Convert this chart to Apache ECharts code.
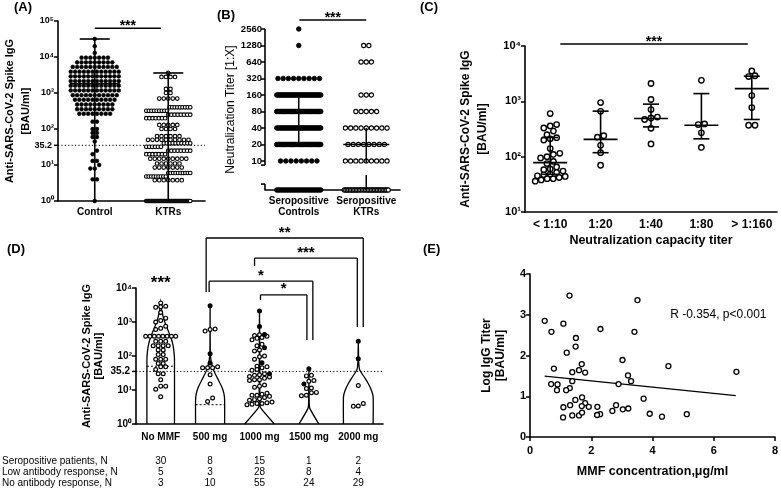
<!DOCTYPE html>
<html>
<head>
<meta charset="utf-8">
<script src="https://cdn.jsdelivr.net/npm/echarts@6.0.0/dist/echarts.min.js"></script>
<style>
html,body{margin:0;padding:0;background:#ffffff;}
#chart{width:781px;height:492px;}
</style>
</head>
<body>
<div id="chart"></div>
<script>
// ================= DATA =================
// (A) anti-spike IgG [BAU/ml]; dot rows as [value, number of dots]
const aCategories = ['Control', 'KTRs'];
const aControlRows = [[31600,1],[20000,1],[13000,1],[9600,7],[7100,9],[5300,11],[3900,12],[2900,12],[2150,12],[1600,12],[1180,12],[870,11],[650,10],[480,9],[355,9],[265,8],[160,2],[100,2],[78,2],[60,2],[45,1],[25,1],[20,1],[13,2],[10,1],[8,2],[4,2],[1,1]];
const aKtrRows = [[3600,1],[2800,4],[1300,2],[1000,2],[700,5],[400,9],[320,9],[250,8],[200,7],[130,5],[100,4],[63,6],[50,10],[40,10],[32,6],[25,8],[20,7],[15,9],[11,6],[8.5,7],[6,10],[4.8,9],[3.8,7],[1,45]];
const aMedian = [1800, null];
const aMin = [1, 1];
const aMax = [31600, 3600];
const aThreshold = 35.2;
const aSignif = '***';

// (B) neutralization titer [1:X]; dot counts per titer level
const bCategories = ['Seropositive\nControls', 'Seropositive\nKTRs'];
const bTiterLevels = [0, 10, 20, 40, 80, 160, 320, 640, 1280, 2560];
const bControlCounts = [30, 8, 40, 40, 40, 45, 9, 0, 1, 1];
const bKtrCounts = [30, 9, 8, 9, 5, 3, 0, 3, 2, 0];
const bMedian = [40, 20];
const bQ1 = [20, 0];
const bQ3 = [160, 40];
const bTickLabels = [10, 20, 40, 80, 160, 320, 640, 1280, 2560];
const bSignif = '***';

// (C) IgG by neutralization capacity titer
const cCategories = ['< 1:10', '1:20', '1:40', '1:80', '> 1:160'];
const cLt10 = [600,380,360,330,290,250,220,210,200,140,115,110,100,95,82,75,65,60,58,55,52,48,47,45,44,42,40,40,38,36];
const c20 = [950,660,240,225,160,118,70];
const c40 = [2100,1080,710,520,500,470,325,170];
const c80 = [2400,390,380,270,147];
const cGt160 = [3550,2900,2800,1270,770,370,370];
const cMedian = [78, 205, 490, 370, 1700];
const cQ1 = [48, 118, 345, 210, 470];
const cQ3 = [222, 665, 890, 1380, 2850];
const cSignif = '***';

// (D) IgG by MMF dose
const dCategories = ['No MMF', '500 mg', '1000 mg', '1500 mg', '2000 mg'];
const dOpenNoMMF = [3600,2900,2800,2700,1900,1300,1100,1000,750,650,600,380,380,380,380,380,380,380,380,270,270,270,200,200,200,200,150,150,110,110,80,80,80,60,60,48,48,40,30,30,20,13,13,10.5,6.3];
const dOpen500 = [620,600,540,48,45,45,45,28,15,5.8,4.6];
const dFilled500 = [3000,117,62];
const dOpen1000 = [420,400,380,350,330,300,220,200,150,140,100,95,80,50,48,45,40,38,30,28,27,25,24,22,20,20,19,14,13,12,8,7.5,7,7,6.5,6,5.5,5.2,5,4.4,4.2,4.0,4.0,3.8,3.7];
const dFilled1000 = [2100,740,430,175,63,30];
const dOpen1500 = [27,26,19,18,11.5,11,8.5,8.3,7,6.8];
const dFilled1500 = [42,15];
const dOpen2000 = [13.5,4,3.4,3.3];
const dFilled2000 = [270,83];
// violin outlines: [log10 level, relative half-width]
const dViolinNoMMF = [[0,0.93],[1.9,0.93],[2.1,0.9],[2.3,0.84],[2.5,0.72],[2.7,0.55],[2.9,0.36],[3.1,0.2],[3.3,0.09],[3.45,0.03],[3.56,0]];
const dViolin500 = [[0,0.98],[0.7,0.98],[0.9,0.93],[1.1,0.78],[1.3,0.55],[1.5,0.32],[1.65,0.17],[1.75,0.12],[1.85,0.07],[2.0,0.03],[2.2,0.01],[3.48,0]];
const dViolin1000 = [[0,1],[0.46,0.1],[0.55,0.03],[1.5,0.02],[3.33,0]];
const dViolin1500 = [[0,0.67],[0.46,0.06],[0.6,0.02],[1.62,0]];
const dViolin2000 = [[0,1],[0.8,1],[1.0,0.88],[1.2,0.66],[1.35,0.45],[1.5,0.22],[1.6,0.09],[1.8,0.03],[2.43,0]];
const dQuartileCats = [0, 1];
const dQuartileValues = [50, 3.7];
const dThreshold = 35.2;
const dNoMMFSignif = '***';
const dBracketPairs = [[1,4],[2,4],[1,3],[2,3]];
const dBracketLabels = ['**','***','*','*'];
const dTableRowNames = ['Seropositive patients, N', 'Low antibody response, N', 'No antibody response, N'];
const dSeropositive = [30, 8, 15, 1, 2];
const dLowResponse = [5, 3, 28, 8, 4];
const dNoResponse = [3, 10, 55, 24, 29];

// (E) log IgG titer vs MMF concentration
const eX = [1.29,3.51,0.48,1.09,0.70,2.30,3.41,1.50,1.49,1.20,3.02,4.52,6.74,0.78,1.69,1.60,1.38,1.80,3.20,3.30,2.89,0.69,0.90,1.38,1.30,0.88,1.18,1.70,1.48,3.71,1.80,1.09,1.31,1.92,1.69,2.20,2.81,2.69,3.03,3.21,2.29,2.19,1.38,1.60,1.70,1.08,3.91,4.31,5.12];
const eY = [3.47,3.36,2.85,2.78,2.58,2.65,2.58,2.43,2.22,2.07,1.89,1.74,1.60,1.68,1.79,1.64,1.59,1.58,1.51,1.37,1.30,1.30,1.29,1.37,1.20,1.15,1.15,0.97,0.91,0.94,0.83,0.73,0.78,0.74,0.76,0.74,0.78,0.64,0.68,0.70,0.56,0.54,0.53,0.53,0.60,0.48,0.57,0.50,0.56];
const eFitIntercept = 1.53;
const eFitSlope = -0.0765;
const eFitRange = [0.48, 6.72];
const eAnnotation = 'R -0.354, p<0.001';

// ================= HELPERS =================
const FONT = "'Liberation Sans', Arial, Helvetica, sans-serif";
const INK = '#000000';
const SUP = ['\u2070','\u00b9','\u00b2','\u00b3','\u2074','\u2075'];
const B_ZERO = -1.76, B_BREAK_HI = -0.25, B_BREAK_LO = -1.4;
function tB(v){ return v === 0 ? B_ZERO : Math.log2(v / 10); }
function expandRows(rows){ const o=[]; rows.forEach(r=>{ for(let k=0;k<r[1];k++) o.push(r[0]); }); return o; }
function expandCounts(levels, counts){ const o=[]; levels.forEach((lv,i)=>{ for(let k=0;k<counts[i];k++) o.push(lv); }); return o; }
function logLabel(v){ const e = Math.round(Math.log10(v)); return '10' + (SUP[e] || ''); }
function mkLine(ch,x1,y1,x2,y2,w,dash){ ch.push({type:'line', shape:{x1:x1,y1:y1,x2:x2,y2:y2}, style:{stroke:INK, lineWidth:w||1.5, lineDash:dash||null, fill:null}}); }
function mkText(ch,x,y,t,font,align,valign){ ch.push({type:'text', x:x, y:y, style:{text:t, fill:INK, font:font, align:align||'center', verticalAlign:valign||'top', textAlign:align||'center', textVerticalAlign:valign||'top'}}); }

const swarmCache = {};
function swarm(key, xi, yi, cat, vals, flags, cfg){
  const data = vals.map((v,i)=>[cat, v, flags[i] ? 1 : 0]);
  return {
    type:'custom', xAxisIndex:xi, yAxisIndex:yi, z:3, clip:false, silent:true, data:data,
    renderItem: function(params, api){
      if (!swarmCache[key]) {
        const pts = data.map(d => api.coord([d[0], d[1]]));
        const order = pts.map((p,i)=>i).sort((a,b)=>pts[b][1]-pts[a][1]);
        const out = pts.map(p=>[p[0],p[1]]);
        let row = [], rowY = null;
        const flush = function(){
          const n = row.length;
          const sp = n > 1 ? Math.min(cfg.d, 2*cfg.half/(n-1)) : 0;
          row.forEach((idx,k)=>{ out[idx][0] = pts[idx][0] + (k-(n-1)/2)*sp; });
          row = [];
        };
        order.forEach(idx=>{
          if (row.length && Math.abs(pts[idx][1]-rowY) > cfg.d*0.8) flush();
          if (!row.length) rowY = pts[idx][1];
          row.push(idx);
        });
        flush();
        swarmCache[key] = out;
      }
      const p = swarmCache[key][params.dataIndex];
      const f = data[params.dataIndex][2];
      return {type:'circle', shape:{cx:p[0], cy:p[1], r:cfg.r}, style:{fill: f ? INK : '#ffffff', stroke:INK, lineWidth:cfg.lw}};
    }
  };
}

function statsSeries(xi, yi, med, lo, hi, cfg){
  return {
    type:'custom', xAxisIndex:xi, yAxisIndex:yi, z:4, clip:false, silent:true,
    data: lo.map((v,i)=>[i, v]),
    renderItem: function(params, api){
      const i = params.dataIndex, ch = [];
      const X = api.coord([i, lo[i]])[0];
      const Y = v => api.coord([i, v])[1];
      const segs = cfg.split ? cfg.split(lo[i], hi[i]) : [[lo[i], hi[i]]];
      segs.forEach(s => mkLine(ch, X, Y(s[0]), X, Y(s[1]), cfg.lw));
      if (cfg.capHalf) {
        if (cfg.capLo) mkLine(ch, X-cfg.capHalf, Y(lo[i]), X+cfg.capHalf, Y(lo[i]), cfg.lw);
        if (cfg.capHi) mkLine(ch, X-cfg.capHalf, Y(hi[i]), X+cfg.capHalf, Y(hi[i]), cfg.lw);
      }
      if (med[i] !== null && med[i] !== undefined && cfg.medHalf) mkLine(ch, X-cfg.medHalf, Y(med[i]), X+cfg.medHalf, Y(med[i]), cfg.lw);
      return {type:'group', children:ch};
    }
  };
}

function anno(xi, yi, y0, z, build){
  return {type:'custom', xAxisIndex:xi, yAxisIndex:yi, z:z, clip:false, silent:true, data:[[0, y0]],
    renderItem: function(params, api){ const ch=[]; build(api, ch); return {type:'group', children:ch}; }};
}

// ================= SERIES =================
const series = [];
// --- A ---
const aCtrl = expandRows(aControlRows), aKtr = expandRows(aKtrRows);
series.push(anno(0,0,10,2,function(api,ch){
  const band = api.size([1,0])[0];
  const left = api.coord([0,1])[0]-band/2, right = api.coord([aCategories.length-1,1])[0]+band/2;
  const yT = api.coord([0,aThreshold])[1];
  mkLine(ch,left,yT,right,yT,1,[1.2,2.2]);
  mkLine(ch,left-4,yT,left,yT,1.5);
  mkText(ch,left-6,yT,String(aThreshold),'bold 9px '+FONT,'right','middle');
  const ys = api.coord([0,Math.pow(10,4.8)])[1];
  const x1 = api.coord([0,1])[0], x2 = api.coord([1,1])[0]-0.1*band;
  mkLine(ch,x1,ys,x2,ys,1.5);
  mkText(ch,(x1+x2)/2,ys-9,aSignif,'bold 14px '+FONT);
}));
series.push(swarm('a0',0,0,0,aCtrl,aCtrl.map(()=>1),{d:4.4,half:24,r:1.9,lw:0.6}));
series.push(swarm('a1',0,0,1,aKtr,aKtr.map(()=>0),{d:4.5,half:22,r:1.8,lw:1.1}));
series.push(statsSeries(0,0,aMedian,aMin,aMax,{medHalf:25,capHalf:15,capHi:true,lw:1.6}));

// --- B ---
const bCtrl = expandCounts(bTiterLevels,bControlCounts).map(tB);
const bKtr = expandCounts(bTiterLevels,bKtrCounts).map(tB);
series.push(anno(1,1,0,5,function(api,ch){
  const band = api.size([1,0])[0];
  const left = api.coord([0,0])[0]-band/2;
  const c = t => api.coord([0,t])[1];
  mkLine(ch,left,c(8),left,c(B_BREAK_HI),1.6);
  mkLine(ch,left-4,c(B_BREAK_HI),left,c(B_BREAK_HI),1.6);
  mkLine(ch,left,c(B_BREAK_LO),left,c(B_ZERO),1.6);
  mkLine(ch,left-4,c(B_BREAK_LO),left,c(B_BREAK_LO),1.6);
  const ys = c(8.55);
  const x1 = api.coord([0,0])[0]+0.01*band, x2 = api.coord([1,0])[0];
  mkLine(ch,x1,ys,x2,ys,1.4);
  mkText(ch,(x1+x2)/2,ys-9,bSignif,'bold 14px '+FONT);
}));
series.push(swarm('b0',1,1,0,bCtrl,bCtrl.map(()=>1),{d:5.2,half:22,r:2.3,lw:0.8}));
series.push(swarm('b1',1,1,1,bKtr,bKtr.map(()=>0),{d:5.2,half:22,r:2.1,lw:1.1}));
series.push(statsSeries(1,1,bMedian.map(tB),bQ1.map(tB),bQ3.map(tB),{medHalf:23,lw:1.5,
  split:function(a,b){ const s=[]; if (b > -0.12) s.push([Math.max(a,-0.12), b]); if (a < -0.85) s.push([a, Math.min(b,-0.85)]); return s; }}));

// --- C ---
const cGroups = [cLt10, c20, c40, c80, cGt160];
series.push(anno(2,2,100,5,function(api,ch){
  const band = api.size([1,0])[0];
  const ys = api.coord([0,Math.pow(10,4.036)])[1];
  const x1 = api.coord([0,100])[0]+0.2*band, x2 = api.coord([cCategories.length-1,100])[0]-0.08*band;
  mkLine(ch,x1,ys,x2,ys,1.5);
  mkText(ch,(x1+x2)/2,ys-9,cSignif,'bold 14px '+FONT);
}));
cGroups.forEach((g,i)=>series.push(swarm('c'+i,2,2,i,g,g.map(()=>0),{d:6.4,half:15,r:2.7,lw:1.4})));
series.push(statsSeries(2,2,cMedian,cQ1,cQ3,{medHalf:17,capHalf:8,capHi:true,capLo:true,lw:1.6}));

// --- D ---
const dViolins = [dViolinNoMMF, dViolin500, dViolin1000, dViolin1500, dViolin2000];
const dOpen = [dOpenNoMMF, dOpen500, dOpen1000, dOpen1500, dOpen2000];
const dFilled = [[], dFilled500, dFilled1000, dFilled1500, dFilled2000];
function violinHalf(prof, lv){
  for (let k=1;k<prof.length;k++){ if (lv <= prof[k][0]) { const a=prof[k-1], b=prof[k]; return a[1]+(b[1]-a[1])*(lv-a[0])/(b[0]-a[0]); } }
  return 0;
}
series.push({type:'custom', xAxisIndex:3, yAxisIndex:3, z:1, clip:false, silent:true,
  data: dViolins.map((p,i)=>[i,1]),
  renderItem: function(params, api){
    const i = params.dataIndex, prof = dViolins[i];
    const band = api.size([1,0])[0], mh = band*0.3;
    const cx = api.coord([i,1])[0];
    const L=[], R=[];
    prof.forEach(function(p){ const y = api.coord([i,Math.pow(10,p[0])])[1]; L.push([cx-p[1]*mh,y]); R.push([cx+p[1]*mh,y]); });
    const pts = L.concat(R.reverse());
    const ch = [{type:'polyline', shape:{points:pts, smooth:0.2}, style:{stroke:INK, fill:null, lineWidth:1.3}}];
    dQuartileCats.forEach(function(c,k){
      if (c !== i) return;
      const lv = Math.log10(dQuartileValues[k]);
      const hw = violinHalf(prof, lv)*mh;
      const y = api.coord([i,dQuartileValues[k]])[1];
      mkLine(ch,cx-hw,y,cx+hw,y,1,[2,2]);
    });
    return {type:'group', children:ch};
  }});
series.push(anno(3,3,10,2,function(api,ch){
  const band = api.size([1,0])[0];
  const left = api.coord([0,1])[0]-band/2, right = api.coord([dCategories.length-1,1])[0]+band/2;
  const yT = api.coord([0,dThreshold])[1];
  mkLine(ch,left,yT,right,yT,1,[1.2,2.2]);
  mkLine(ch,left-4,yT,left,yT,1.5);
  mkText(ch,left-6,yT,String(dThreshold),'bold 10px '+FONT,'right','middle');
}));
dOpen.forEach((g,i)=>{
  const vals = g.concat(dFilled[i]);
  const flags = g.map(()=>0).concat(dFilled[i].map(()=>1));
  series.push(swarm('d'+i,3,3,i,vals,flags,{d:5,half:15,r:1.9,lw:1.2}));
});
// bracket geometry (layout): [x-offset from, x-offset to (band fractions), top log10, left leg end, right leg end]
const dBracketGeom = [[-0.08,0.1,5.47,3.88,2.85],[-0.1,-0.02,4.88,4.65,2.85],[-0.02,0.08,4.2,3.88,2.47],[0.02,-0.04,3.8,3.65,2.47]];
series.push(anno(3,3,10,5,function(api,ch){
  const band = api.size([1,0])[0];
  const Y = lv => api.coord([0,Math.pow(10,lv)])[1];
  dBracketPairs.forEach(function(pr,k){
    const g = dBracketGeom[k];
    const x1 = api.coord([pr[0],1])[0]+g[0]*band, x2 = api.coord([pr[1],1])[0]+g[1]*band;
    const yt = Y(g[2]);
    mkLine(ch,x1,yt,x2,yt,1.3);
    mkLine(ch,x1,yt,x1,Y(g[3]),1.3);
    mkLine(ch,x2,yt,x2,Y(g[4]),1.3);
    mkText(ch,(x1+x2)/2,yt-13,dBracketLabels[k],'bold 15px '+FONT);
  });
  const x0 = api.coord([0,1])[0];
  mkText(ch,x0,Y(4.15)-8,dNoMMFSignif,'bold 17px '+FONT);
}));

// --- E ---
series.push({type:'line', xAxisIndex:4, yAxisIndex:4, z:2, silent:true, symbol:'none',
  data: eFitRange.map(x=>[x, eFitIntercept+eFitSlope*x]), lineStyle:{color:INK, width:1.4}});
series.push({type:'scatter', xAxisIndex:4, yAxisIndex:4, z:3, silent:true, symbol:'circle', symbolSize:5,
  data: eX.map((x,i)=>[x, eY[i]]), itemStyle:{color:'#ffffff', borderColor:INK, borderWidth:1.3, opacity:1}});
series.push(anno(4,4,1,5,function(api,ch){
  const p = api.coord([6.15, 3.0]);
  mkText(ch,p[0],p[1],eAnnotation,'12px '+FONT,'center','middle');
}));

// ================= AXES =================
const axLine = {show:true, onZero:false, lineStyle:{color:INK, width:1.6}};
const axTick = {show:true, length:4, lineStyle:{color:INK, width:1.5}};
const noSplit = {show:false};
const bTickVals = bTickLabels.map(tB);
function lbl(size, weight, extra){ return Object.assign({color:INK, fontFamily:FONT, fontSize:size, fontWeight:weight}, extra||{}); }

const xAxis = [
  {type:'category', gridIndex:0, data:aCategories, axisLine:axLine, axisTick:{show:false}, splitLine:noSplit, axisLabel:lbl(10,'bold',{margin:6, interval:0})},
  {type:'category', gridIndex:1, data:bCategories, axisLine:axLine, axisTick:{show:false}, splitLine:noSplit, axisLabel:lbl(10,'bold',{margin:6, interval:0, lineHeight:11})},
  {type:'category', gridIndex:2, data:cCategories, axisLine:axLine, axisTick:{show:false}, splitLine:noSplit, axisLabel:lbl(12,'bold',{margin:7, interval:0}),
    name:'Neutralization capacity titer', nameLocation:'middle', nameGap:22, nameTextStyle:lbl(12.5,'bold')},
  {type:'category', gridIndex:3, data:dCategories, axisLine:axLine, axisTick:{show:false}, splitLine:noSplit, axisLabel:lbl(10,'bold',{margin:8, interval:0})},
  {type:'value', gridIndex:4, min:0, max:8, interval:2, axisLine:axLine, axisTick:axTick, splitLine:noSplit, axisLabel:lbl(11,'bold',{margin:8}),
    name:'MMF concentration,\u03bcg/ml', nameLocation:'middle', nameGap:28, nameTextStyle:lbl(12.5,'bold')},
  {type:'category', gridIndex:3, position:'bottom', offset:29, data:dCategories, axisLine:{show:false}, axisTick:{show:false}, splitLine:noSplit,
    axisLabel:lbl(10,'normal',{margin:3, interval:0, formatter:(v,i)=>String(dSeropositive[i])})},
  {type:'category', gridIndex:3, position:'bottom', offset:40, data:dCategories, axisLine:{show:false}, axisTick:{show:false}, splitLine:noSplit,
    axisLabel:lbl(10,'normal',{margin:3, interval:0, formatter:(v,i)=>String(dLowResponse[i])})},
  {type:'category', gridIndex:3, position:'bottom', offset:51, data:dCategories, axisLine:{show:false}, axisTick:{show:false}, splitLine:noSplit,
    axisLabel:lbl(10,'normal',{margin:3, interval:0, formatter:(v,i)=>String(dNoResponse[i])})}
];
const yAxis = [
  {type:'log', logBase:10, gridIndex:0, min:1, max:100000, axisLine:axLine, axisTick:axTick, splitLine:noSplit, minorTick:{show:false},
    axisLabel:lbl(9,'bold',{margin:4, formatter:logLabel}),
    name:'Anti-SARS-CoV-2 Spike IgG\n[BAU/ml]', nameLocation:'middle', nameRotate:90, nameGap:24, nameTextStyle:lbl(11,'bold',{lineHeight:16})},
  {type:'value', gridIndex:1, min:B_ZERO, max:8, axisLine:{show:false}, splitLine:noSplit,
    axisTick:{show:true, length:4, lineStyle:{color:INK, width:1.5}, customValues:bTickVals},
    axisLabel:lbl(9.5,'bold',{margin:3, customValues:bTickVals, formatter:function(v){ const k=bTickVals.findIndex(c=>Math.abs(c-v)<1e-6); return k>=0?String(bTickLabels[k]):''; }}),
    name:'Neutralization Titer [1:X]', nameLocation:'middle', nameRotate:90, nameGap:22, nameTextStyle:lbl(12,'normal')},
  {type:'log', logBase:10, gridIndex:2, min:10, max:10000, axisLine:axLine, axisTick:axTick, splitLine:noSplit, minorTick:{show:false},
    axisLabel:lbl(11,'bold',{margin:4, formatter:logLabel}),
    name:'Anti-SARS-CoV-2 Spike IgG\n[BAU/ml]', nameLocation:'middle', nameRotate:90, nameGap:34, nameTextStyle:lbl(12,'bold',{lineHeight:17})},
  {type:'log', logBase:10, gridIndex:3, min:1, max:10000, axisLine:axLine, axisTick:axTick, splitLine:noSplit, minorTick:{show:false},
    axisLabel:lbl(10,'bold',{margin:4, formatter:logLabel}),
    name:'Anti-SARS-CoV-2 Spike IgG\n[BAU/ml]', nameLocation:'middle', nameRotate:90, nameGap:31, nameTextStyle:lbl(11,'bold',{lineHeight:12})},
  {type:'value', gridIndex:4, min:0, max:4, interval:1, axisLine:axLine, axisTick:axTick, splitLine:noSplit, axisLabel:lbl(11,'bold',{margin:4}),
    name:'Log IgG Titer\n[BAU/ml]', nameLocation:'middle', nameRotate:90, nameGap:22, nameTextStyle:lbl(12,'bold',{lineHeight:14})}
];

const grids = [
  {left:58, top:21, width:147, height:180},
  {left:265, top:29, width:135, height:161},
  {left:525, top:46, width:252, height:166},
  {left:136, top:288, width:247, height:136},
  {left:530, top:274, width:245, height:163}
].map(g=>Object.assign(g,{containLabel:false, outerBoundsMode:'none', show:false}));

function panelLabel(t,l,tp){ return {type:'text', left:l, top:tp, style:{text:t, font:'bold 13px '+FONT, fill:INK}}; }
const graphic = [
  panelLabel('(A)',14,1), panelLabel('(B)',217,9), panelLabel('(C)',420,1), panelLabel('(D)',7,243), panelLabel('(E)',423,243)
].concat(dTableRowNames.map((t,k)=>({type:'text', left:2, top:456+k*11, style:{text:t, font:'10px '+FONT, fill:INK}})));

const chart = echarts.init(document.getElementById('chart'), null, {renderer:'canvas'});
chart.setOption({
  animation:false,
  backgroundColor:'#ffffff',
  textStyle:{fontFamily:FONT, color:INK},
  grid:grids, xAxis:xAxis, yAxis:yAxis, graphic:graphic, series:series
});
</script>
</body>
</html>
